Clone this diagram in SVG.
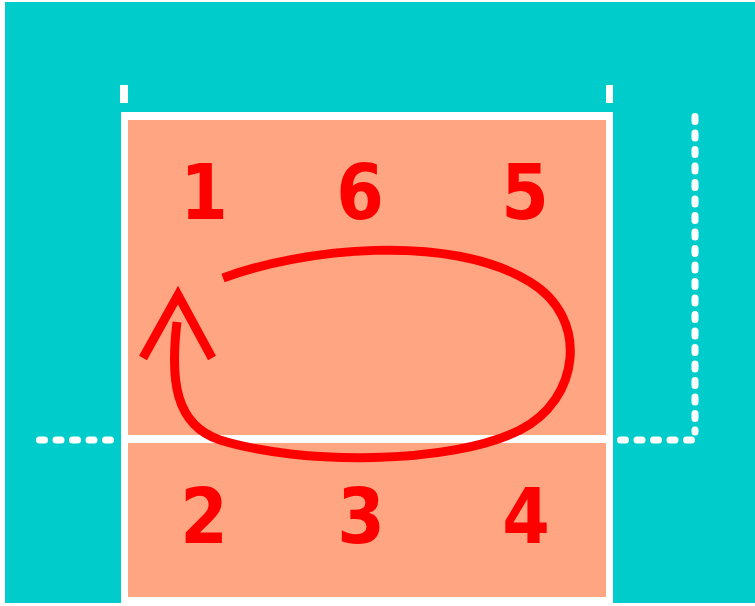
<svg xmlns="http://www.w3.org/2000/svg" width="755" height="606" viewBox="0 0 755 606">
<defs>
<style>
.num{font-family:"DejaVu Sans Condensed","DejaVu Sans","Liberation Sans",sans-serif;font-weight:bold;font-size:76px;fill:#FF0000;text-anchor:middle}
.dash{fill:none;stroke:#FFFFFF;stroke-width:7;stroke-linecap:round;stroke-dasharray:5 11.5}
.red{fill:none;stroke:#FF0000;stroke-width:9}
</style>
</defs>
<rect x="0" y="0" width="755" height="606" fill="#FFFFFF"/>
<rect x="5" y="2" width="750" height="601" fill="#00CCCC"/>
<g id="court">
<rect x="121" y="112" width="492" height="500" fill="#FFFFFF"/>
<rect x="128" y="120" width="478" height="477" fill="#FFA582"/>
<rect x="121" y="435" width="492" height="8" fill="#FFFFFF"/>
<rect x="120" y="85" width="8" height="18" fill="#FFFFFF"/>
<rect x="606" y="85" width="7" height="18" fill="#FFFFFF"/>
</g>
<g id="dashes">
<path class="dash" d="M39.5,440 H114"/>
<path class="dash" d="M620.5,440 H692"/>
<path class="dash" d="M695,116.5 V432"/>
</g>
<g id="positions">
<g id="p1"><text class="num" x="204" y="219">1</text></g>
<g id="p6"><text class="num" x="360" y="219">6</text></g>
<g id="p5"><text class="num" x="525" y="219">5</text></g>
<g id="p2"><text class="num" x="204" y="543">2</text></g>
<g id="p3"><text class="num" x="361" y="543">3</text></g>
<g id="p4"><text class="num" x="526" y="543">4</text></g>
</g>
<g id="connectors">
<path class="red" d="M223,278 C300,249 450,232 530,282 C590,318 580,400 520,430 C450,465 300,465 220,440 C175,425 170,380 177,322"/>
<polyline class="red" points="143,358 178,295 212,358" stroke-linejoin="miter" stroke-miterlimit="10"/>
</g>
</svg>
